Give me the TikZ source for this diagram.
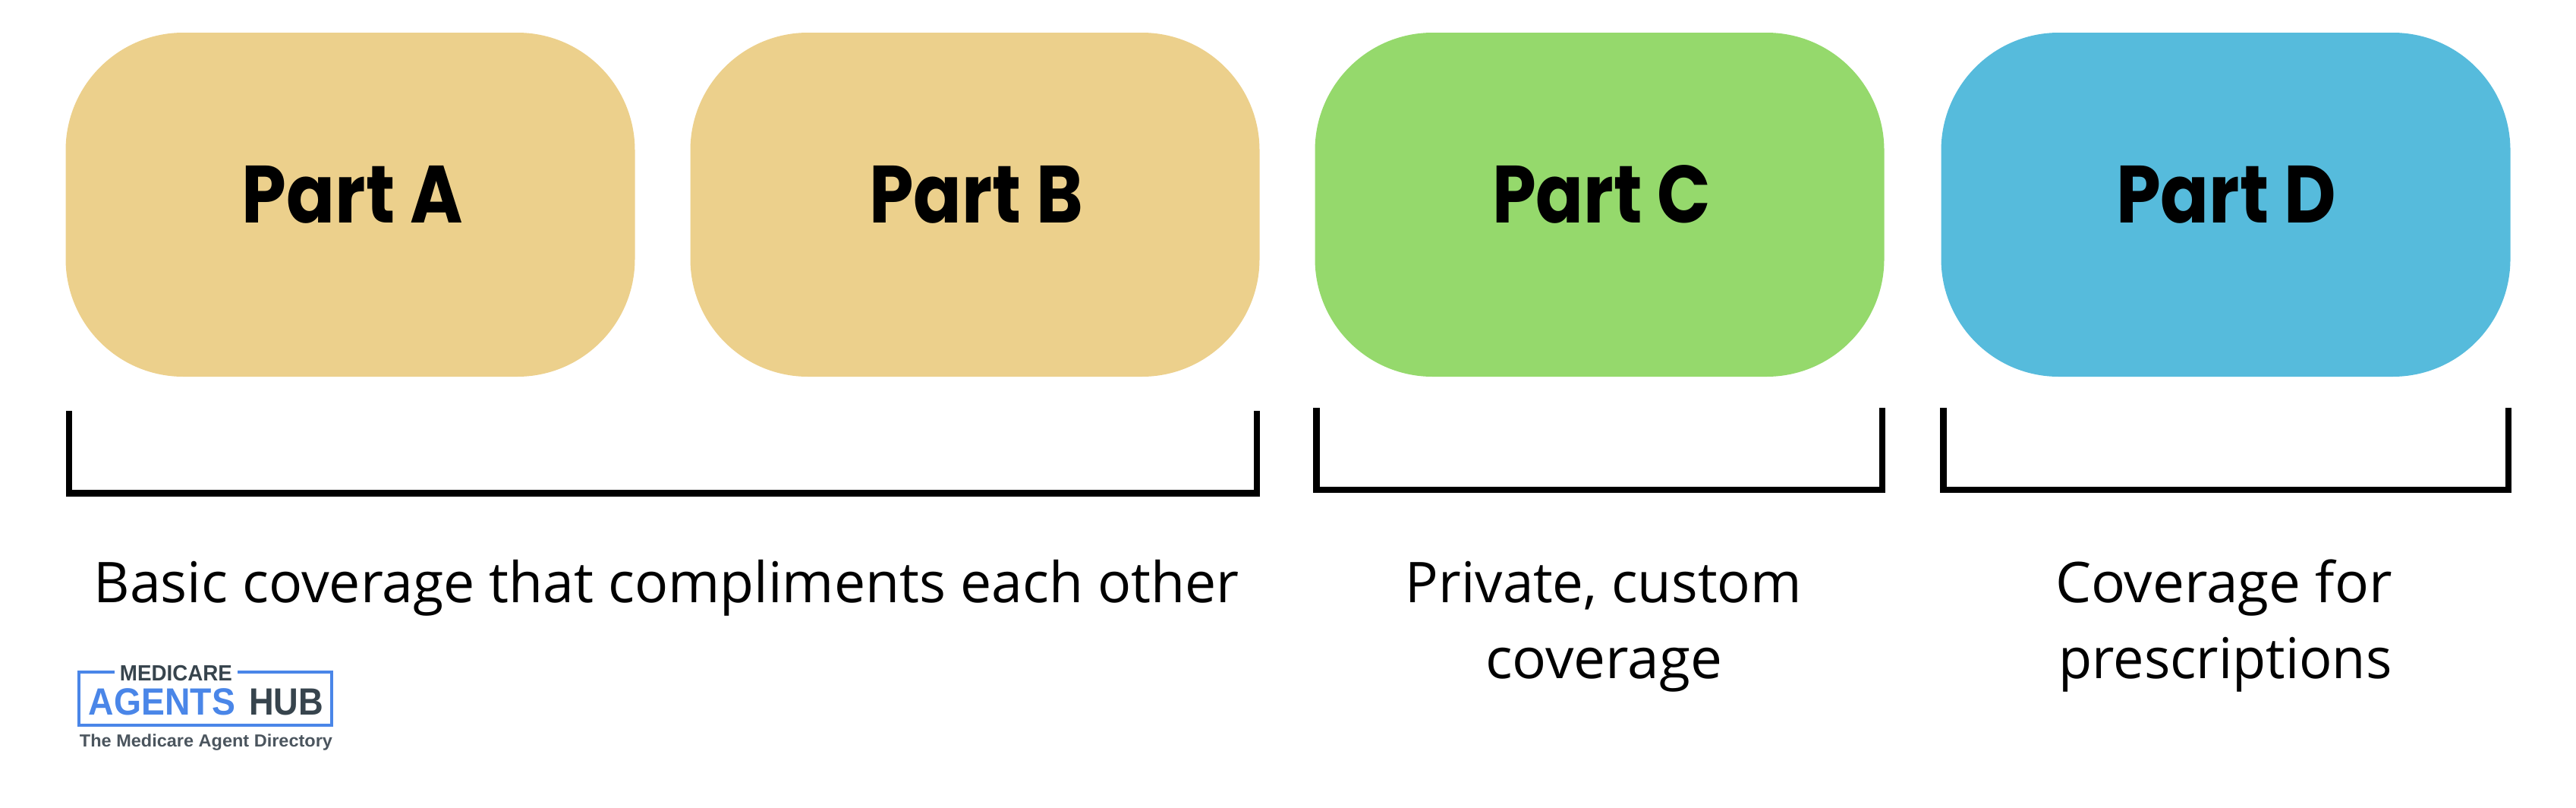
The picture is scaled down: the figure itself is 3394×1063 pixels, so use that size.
\documentclass[tikz,border=0pt]{standalone}
\usepackage{graphicx}
\usepackage{fontspec}
\setmainfont{Open Sans}
\newfontfamily\partfont{Poppins}
\newfontfamily\logofont{Liberation Sans}
\definecolor{goldbox}{HTML}{ECD08C}
\definecolor{greenbox}{HTML}{95D96C}
\definecolor{bluebox}{HTML}{56BBDC}
\definecolor{logoblue}{HTML}{4A86E8}
\definecolor{logodark}{HTML}{37444D}
\definecolor{logogray}{HTML}{4B555E}
\newcommand{\fitw}[2]{\resizebox{#1pt}{\height}{#2}}
\tikzset{
  x=1pt,y=-1pt,
  partbox/.style={draw=none,rounded corners=155pt,inner sep=0pt,minimum width=750pt,minimum height=453pt},
  partlabel/.style={anchor=base,inner sep=0pt,font={\partfont\bfseries\fontsize{107}{107}\selectfont}},
  caption/.style={anchor=base,inner sep=0pt,font={\fontsize{74}{74}\selectfont}},
  bracket/.style={draw=black,line width=8.5pt,miter limit=10},
  logomed/.style={anchor=base,inner sep=0pt,text=logodark,font={\logofont\bfseries\fontsize{29}{29}\selectfont}},
  logobig/.style={anchor=base,inner sep=0pt,font={\logofont\bfseries\fontsize{50}{50}\selectfont}},
  logosub/.style={anchor=base,inner sep=0pt,text=logogray,font={\logofont\bfseries\fontsize{23}{23}\selectfont}}
}
\begin{document}
\begin{tikzpicture}
\useasboundingbox (0,0) rectangle (3394,1063);
\node[partbox,fill=goldbox]  (boxA) at (461.5,269.5) {};
\node[partbox,fill=goldbox]  (boxB) at (1284.5,269.5) {};
\node[partbox,fill=greenbox] (boxC) at (2107.5,269.5) {};
\node[partbox,fill=bluebox]  (boxD) at (2932.5,269.5) {};
\node[partlabel] (labA) at (464.5,293) {\fitw{291}{Part A}};
\node[partlabel] (labB) at (1286,293) {\fitw{282}{Part B}};
\node[partlabel] (labC) at (2110,293) {\fitw{288}{Part C}};
\node[partlabel] (labD) at (2933,293) {\fitw{290}{Part D}};
\draw[bracket] (91,541) -- (91,649.5) -- (1656,649.5) -- (1656,541);
\draw[bracket] (1734.5,537) -- (1734.5,645) -- (2480,645) -- (2480,537);
\draw[bracket] (2560.5,537) -- (2560.5,645) -- (3305,645) -- (3305,537);
\node[caption] (capAB) at (878,793) {\fitw{1509}{Basic coverage that compliments each other}};
\node[caption] (capC1) at (2113,793) {\fitw{522}{Private, custom}};
\node[caption] (capC2) at (2113,893) {\fitw{312}{coverage}};
\node[caption] (capD1) at (2930,793) {\fitw{444}{Coverage for}};
\node[caption] (capD2) at (2932,893) {\fitw{439}{prescriptions}};
\draw[logoblue,line width=4pt] (151,885) -- (103.7,885) -- (103.7,954.5) -- (437,954.5) -- (437,885) -- (313,885);
\node[logomed] (logoM) at (232,896) {\fitw{148}{MEDICARE}};
\node[logobig,text=logoblue] (logoA) at (213.5,941) {\fitw{193}{AGENTS}};
\node[logobig,text=logodark] (logoH) at (377,941) {\fitw{98}{HUB}};
\node[logosub] (logoS) at (271.5,983) {\fitw{333}{The Medicare Agent Directory}};
\end{tikzpicture}
\end{document}
